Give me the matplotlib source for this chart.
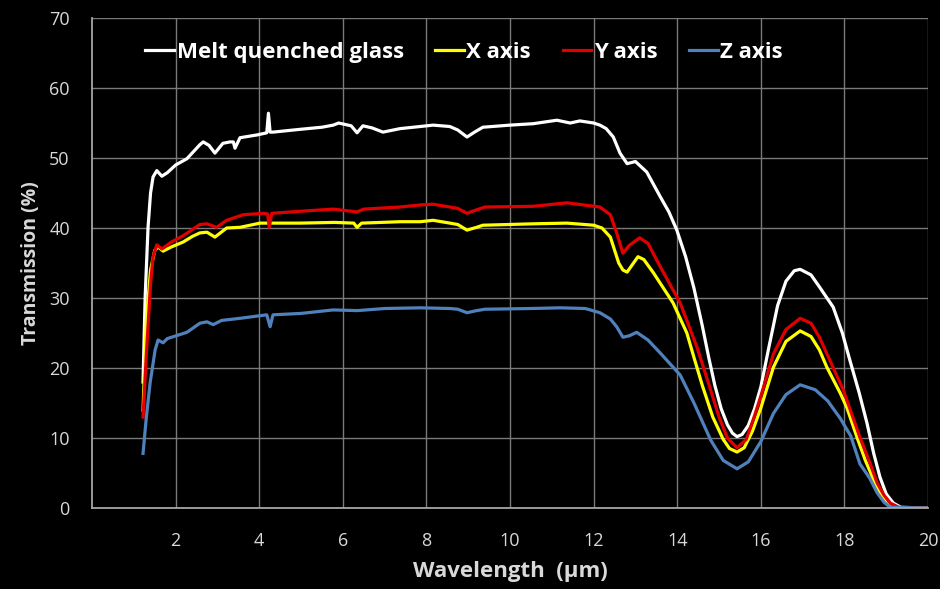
import matplotlib
matplotlib.use('Agg')
import matplotlib.pyplot as plt

plt.rcParams['font.family'] = ['Open Sans', 'DejaVu Sans']

# 熔融淬火玻璃
wl_glass = [1.22, 1.27, 1.34, 1.40, 1.46, 1.55, 1.67, 1.8, 2.0, 2.27, 2.58, 2.66, 2.8, 2.94,
            3.13, 3.3, 3.38, 3.42, 3.54, 3.95, 4.18, 4.22, 4.26, 4.33, 4.98, 5.5, 5.77, 5.9,
            6.2, 6.34, 6.48, 6.7, 6.96, 7.37, 7.85, 8.16, 8.56, 8.75, 8.97, 9.15, 9.35, 10.0,
            10.55, 11.12, 11.44, 11.67, 12.0, 12.15, 12.3, 12.47, 12.63, 12.8, 13.0, 13.27,
            13.6, 13.8, 13.99, 14.2, 14.4, 14.6, 14.75, 14.9, 15.05, 15.2, 15.32, 15.43, 15.55,
            15.7, 15.85, 16.0, 16.2, 16.4, 16.6, 16.8, 16.94, 17.2, 17.4, 17.73, 17.95, 18.13,
            18.35, 18.54, 18.7, 18.85, 19.0, 19.17, 19.35, 20.0]
tr_glass = [18, 30, 40.1, 45, 47.3, 48.2, 47.4, 47.9, 49, 49.9, 51.9, 52.3, 51.8, 50.7,
            52.1, 52.3, 52.3, 51.4, 52.9, 53.3, 53.6, 56.4, 53.7, 53.7, 54.1, 54.4, 54.7, 55.0,
            54.6, 53.6, 54.6, 54.3, 53.7, 54.2, 54.5, 54.7, 54.5, 54.0, 53.0, 53.7, 54.4, 54.7,
            54.9, 55.4, 55.0, 55.3, 55.0, 54.7, 54.2, 53.0, 50.7, 49.2, 49.5, 48.0,
            44.4, 42.3, 39.7, 35.9, 31.4, 26, 21.6, 17.5, 14.2, 11.9, 10.7, 10.2, 10.5,
            11.8, 14.2, 17.3, 23.2, 28.9, 32.4, 33.9, 34.1, 33.3, 31.6, 28.7, 25, 21.1,
            16.5, 12.1, 7.8, 4.4, 2.0, 0.7, 0.1, 0.0]

# X 轴
wl_x = [1.22, 1.3, 1.4, 1.5, 1.58, 1.7, 1.9, 2.18, 2.4, 2.58, 2.75, 2.94, 3.22, 3.54, 4.02,
        4.26, 4.98, 5.8, 6.26, 6.34, 6.45, 7.37, 7.85, 8.16, 8.56, 8.75, 8.97, 9.2, 9.35,
        10.55, 11.36, 12.0, 12.2, 12.4, 12.6, 12.7, 12.8, 13.06, 13.2, 13.43, 13.9, 14.23,
        14.4, 14.6, 14.85, 15.1, 15.25, 15.43, 15.6, 15.8, 16.0, 16.3, 16.6, 16.94, 17.2,
        17.4, 17.58, 17.9, 18.06, 18.3, 18.5, 18.7, 18.85, 19.0, 19.1, 20]
tr_x = [14, 27, 34, 36.8, 37.3, 36.7, 37.3, 38, 38.8, 39.3, 39.4, 38.7, 40, 40.1, 40.7,
        40.7, 40.7, 40.8, 40.7, 40.1, 40.7, 40.9, 40.9, 41.1, 40.7, 40.5, 39.7, 40.1, 40.4,
        40.6, 40.7, 40.4, 40.0, 38.7, 35, 34, 33.7, 35.9, 35.5, 33.6, 29.3, 25,
        21.5, 17.5, 13, 9.8, 8.5, 8.0, 8.6, 11, 14.3, 20.1, 23.8, 25.3, 24.5,
        22.6, 20.1, 16.4, 14.3, 10.1, 6.8, 4.0, 2.2, 0.7, 0.1, 0]

# Y 轴
wl_y = [1.22, 1.3, 1.4, 1.46, 1.55, 1.67, 1.9, 2.18, 2.58, 2.75, 2.98, 3.22, 3.62, 4.1, 4.2,
        4.24, 4.3, 5.0, 5.77, 6.34, 6.5, 7.37, 7.85, 8.16, 8.56, 8.75, 8.97, 9.2, 9.4, 10.55,
        11.36, 12.15, 12.4, 12.55, 12.7, 12.85, 13.1, 13.3, 13.6, 14.07, 14.47, 14.75, 15.0,
        15.2, 15.43, 15.65, 15.85, 16.0, 16.3, 16.6, 16.94, 17.2, 17.4, 17.97, 18.37, 18.6,
        18.78, 18.95, 19.1, 19.3, 20]
tr_y = [13, 22, 32, 35.9, 37.6, 37, 38, 38.9, 40.5, 40.6, 40.1, 41.1, 41.9, 42.1, 42.0,
        40.1, 42.1, 42.4, 42.7, 42.3, 42.7, 43.0, 43.3, 43.4, 43.0, 42.8, 42.1, 42.6, 43.0, 43.1,
        43.6, 43.0, 41.9, 39.3, 36.4, 37.5, 38.6, 37.8, 34.4, 29.3, 23, 17.8, 13,
        10, 8.6, 9.8, 13.2, 16, 22, 25.5, 27.1, 26.4, 24.4, 16.9, 10.1, 6.6,
        3.6, 1.8, 0.7, 0.1, 0]

# Z 轴
wl_z = [1.22, 1.3, 1.39, 1.51, 1.58, 1.7, 1.8, 2.27, 2.58, 2.75, 2.9, 3.1, 3.54, 4.18, 4.26,
        4.33, 5.0, 5.77, 6.34, 7.0, 7.85, 8.56, 8.75, 8.97, 9.2, 9.4, 10.5, 11.2, 11.8, 12.15,
        12.4, 12.55, 12.7, 12.85, 13.03, 13.3, 13.6, 14.07, 14.4, 14.8, 15.1, 15.43, 15.7,
        16.0, 16.3, 16.6, 16.94, 17.3, 17.6, 17.9, 18.15, 18.37, 18.6, 18.78, 18.95, 19.1, 20]
tr_z = [7.8, 13, 17.9, 22.6, 24, 23.6, 24.2, 25.1, 26.4, 26.6, 26.2, 26.8, 27.1, 27.6, 25.9,
        27.6, 27.8, 28.3, 28.2, 28.5, 28.6, 28.5, 28.4, 27.9, 28.2, 28.4, 28.5, 28.6, 28.5, 27.9,
        27, 25.9, 24.4, 24.6, 25.1, 24, 22.1, 19, 15, 9.7, 6.8, 5.6, 6.6,
        9.5, 13.5, 16.2, 17.6, 16.9, 15.3, 12.8, 10.3, 6.3, 4.3, 2.2, 0.8, 0.1, 0]

labels = ['Melt quenched glass', 'X axis', 'Y axis', 'Z axis']
colors = ['#ffffff', '#ffff00', '#e00000', '#4f81bd']
x_ticks = [2, 4, 6, 8, 10, 12, 14, 16, 18, 20]
y_ticks = [0, 10, 20, 30, 40, 50, 60, 70]

fig = plt.figure(figsize=(9.4, 5.89), dpi=100, facecolor='black')
ax = fig.add_axes([0.0979, 0.1375, 0.8894, 0.8319], facecolor='black')

series = [(wl_glass, tr_glass), (wl_x, tr_x), (wl_y, tr_y), (wl_z, tr_z)]
for (wl, tr), lab, c in zip(series, labels, colors):
    ax.plot(wl, tr, color=c, lw=2.3, label=lab, solid_joinstyle='round')

ax.set_xlim(0, 20)
ax.set_ylim(0, 70)
ax.set_xticks(x_ticks)
ax.set_yticks(y_ticks)
ax.grid(True, color='#7a7a7a', lw=1)
ax.set_axisbelow(True)
for side in ['top', 'right']:
    ax.spines[side].set_visible(False)
for side in ['left', 'bottom']:
    ax.spines[side].set_color('#a6a6a6')
    ax.spines[side].set_linewidth(1.3)
ax.tick_params(axis='both', length=0, colors='#d9d9d9', labelsize=13)
ax.tick_params(axis='x', pad=17)
ax.tick_params(axis='y', pad=16)

ax.set_xlabel('Wavelength  (µm)', color='#d9d9d9', fontsize=16, fontweight='bold', labelpad=8)
ax.set_ylabel('Transmission (%)', color='#d9d9d9', fontsize=14, fontweight='bold', labelpad=6)

leg = ax.legend(loc='center left', bbox_to_anchor=(0.04, 0.93), ncol=4, frameon=False,
                handlelength=1.3, handletextpad=0.1, columnspacing=1.42,
                prop={'size': 16, 'weight': 'bold'})
for t in leg.get_texts():
    t.set_color('#ffffff')

fig.savefig('out.png', dpi=100, facecolor='black')
